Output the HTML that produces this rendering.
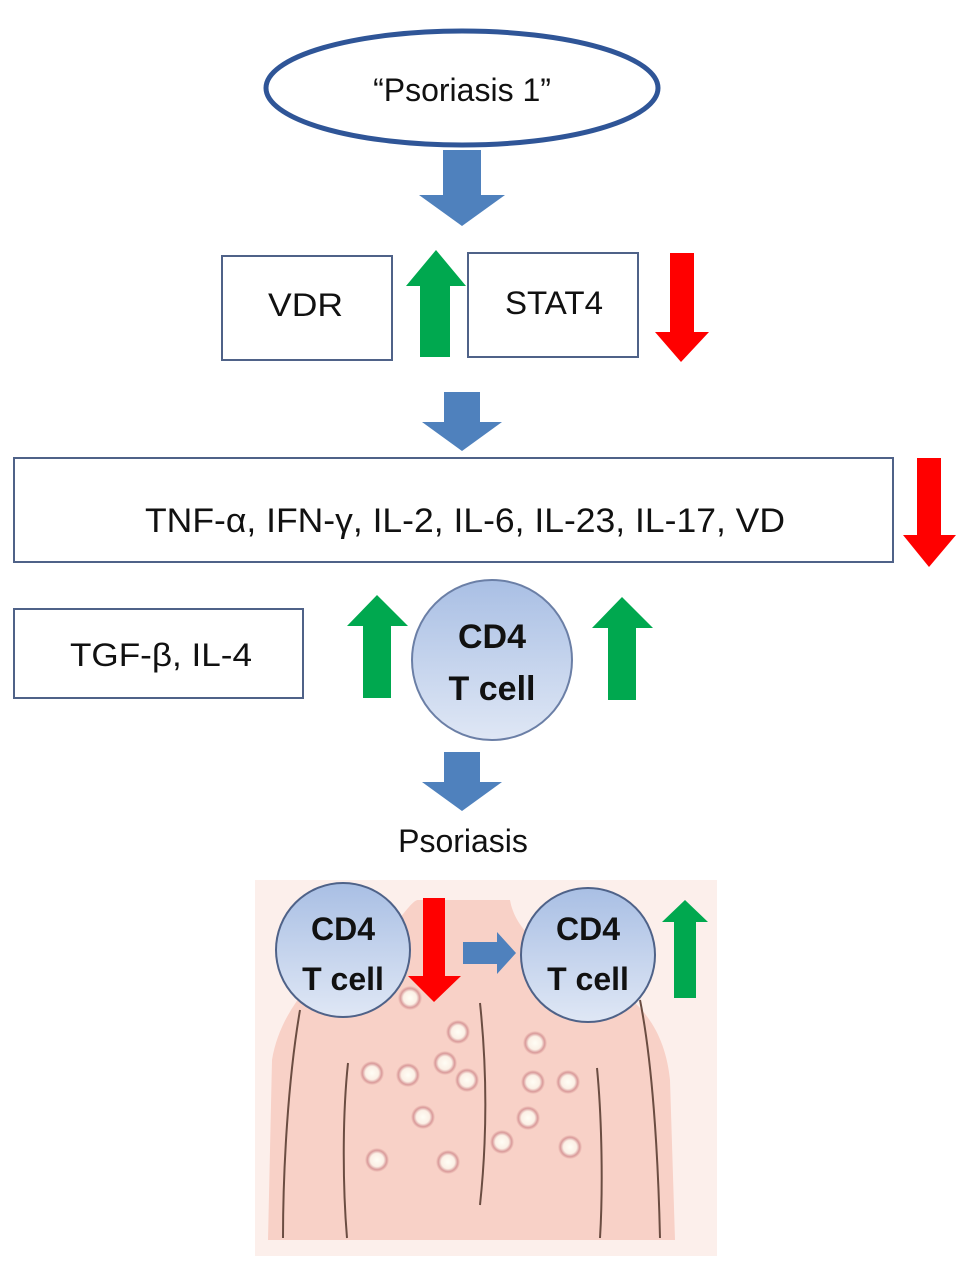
<!DOCTYPE html>
<html><head><meta charset="utf-8"><style>
html,body{margin:0;padding:0;background:#fff}
svg{display:block}
text{font-family:"Liberation Sans",sans-serif}
</style></head><body>
<svg width="969" height="1269" viewBox="0 0 969 1269" xmlns="http://www.w3.org/2000/svg">
<defs>
<linearGradient id="cg" x1="0" y1="0" x2="0" y2="1"><stop offset="0" stop-color="#a9bfe4"/><stop offset="1" stop-color="#dfe7f5"/></linearGradient>
<radialGradient id="bump"><stop offset="0" stop-color="#fffdf5"/><stop offset="0.55" stop-color="#fbf0e6"/><stop offset="0.8" stop-color="#d99a9a"/><stop offset="1" stop-color="#f7cfc4"/></radialGradient>
</defs>
<ellipse cx="462" cy="88" rx="196" ry="57" fill="#fff" stroke="#2f5597" stroke-width="5"/>
<text x="462" y="101" font-size="32" text-anchor="middle" fill="#111">“Psoriasis 1”</text>
<polygon points="443,150 481,150 481,195 505,195 462,226 419,195 443,195" fill="#4f81bd"/>
<rect x="222" y="256" width="170" height="104" fill="#fff" stroke="#4f6288" stroke-width="2"/>
<text x="268" y="316" font-size="32" textLength="75" lengthAdjust="spacingAndGlyphs" fill="#111">VDR</text>
<rect x="468" y="253" width="170" height="104" fill="#fff" stroke="#4f6288" stroke-width="2"/>
<text x="505" y="314" font-size="32" textLength="98" lengthAdjust="spacingAndGlyphs" fill="#111">STAT4</text>
<polygon points="436,250 466,286 450,286 450,357 420,357 420,286 406,286" fill="#00a84f"/>
<polygon points="670,253 694,253 694,332 709,332 681,362 655,332 670,332" fill="#ff0000"/>
<polygon points="444,392 480,392 480,422 502,422 462,451 422,422 444,422" fill="#4f81bd"/>
<rect x="14" y="458" width="879" height="104" fill="#fff" stroke="#4f6288" stroke-width="2"/>
<text x="145" y="532" font-size="34" textLength="640" lengthAdjust="spacingAndGlyphs" fill="#111">TNF-α, IFN-γ, IL-2, IL-6, IL-23, IL-17, VD</text>
<polygon points="917,458 941,458 941,535 956,535 929,567 903,535 917,535" fill="#ff0000"/>
<rect x="14" y="609" width="289" height="89" fill="#fff" stroke="#4f6288" stroke-width="2"/>
<text x="70" y="666" font-size="32" textLength="182" lengthAdjust="spacingAndGlyphs" fill="#111">TGF-β, IL-4</text>
<polygon points="377,595 408,626 391,626 391,698 363,698 363,626 347,626" fill="#00a84f"/>
<polygon points="622,597 653,628 636,628 636,700 608,700 608,628 592,628" fill="#00a84f"/>
<circle cx="492" cy="660" r="80" fill="url(#cg)" stroke="#6b7fa6" stroke-width="2"/>
<text x="492" y="648" font-size="34" font-weight="bold" text-anchor="middle" fill="#111">CD4</text>
<text x="492" y="700" font-size="34" font-weight="bold" text-anchor="middle" fill="#111">T cell</text>
<polygon points="444,752 480,752 480,782 502,782 462,811 422,782 444,782" fill="#4f81bd"/>
<text x="463" y="852" font-size="32" text-anchor="middle" fill="#111">Psoriasis</text>
<rect x="255" y="880" width="462" height="376" fill="#fcefeb"/>
<path d="M272,1060 C285,980 370,935 400,918 C410,905 415,900 418,900 L510,900 C515,930 545,955 590,975 C640,995 665,1030 670,1080 L675,1240 L268,1240 Z" fill="#f8d1c7"/>
<path d="M300,1010 C288,1080 283,1170 283,1238" fill="none" stroke="#6b4d42" stroke-width="2"/>
<path d="M640,1000 C652,1060 658,1150 660,1238" fill="none" stroke="#6b4d42" stroke-width="2"/>
<path d="M348,1063 C342,1120 343,1190 347,1238" fill="none" stroke="#6b4d42" stroke-width="2"/>
<path d="M597,1068 C602,1120 603,1190 600,1238" fill="none" stroke="#6b4d42" stroke-width="2"/>
<path d="M480,1003 C486,1060 488,1130 480,1205" fill="none" stroke="#6b4d42" stroke-width="2"/>
<g fill="url(#bump)">
<circle cx="410" cy="998" r="12"/><circle cx="458" cy="1032" r="12"/><circle cx="535" cy="1043" r="12"/>
<circle cx="372" cy="1073" r="12"/><circle cx="408" cy="1075" r="12"/><circle cx="445" cy="1063" r="12"/>
<circle cx="467" cy="1080" r="12"/><circle cx="533" cy="1082" r="12"/><circle cx="568" cy="1082" r="12"/>
<circle cx="423" cy="1117" r="12"/><circle cx="528" cy="1118" r="12"/><circle cx="502" cy="1142" r="12"/>
<circle cx="570" cy="1147" r="12"/><circle cx="377" cy="1160" r="12"/><circle cx="448" cy="1162" r="12"/>
</g>
<circle cx="343" cy="950" r="67" fill="url(#cg)" stroke="#4f6288" stroke-width="2"/>
<text x="343" y="940" font-size="32" font-weight="bold" text-anchor="middle" fill="#111">CD4</text>
<text x="343" y="990" font-size="32" font-weight="bold" text-anchor="middle" fill="#111">T cell</text>
<circle cx="588" cy="955" r="67" fill="url(#cg)" stroke="#4f6288" stroke-width="2"/>
<text x="588" y="940" font-size="32" font-weight="bold" text-anchor="middle" fill="#111">CD4</text>
<text x="588" y="990" font-size="32" font-weight="bold" text-anchor="middle" fill="#111">T cell</text>
<polygon points="423,898 445,898 445,976 461,976 434,1002 408,976 423,976" fill="#ff0000"/>
<polygon points="463,942 497,942 497,932 516,953 497,974 497,964 463,964" fill="#4f81bd"/>
<polygon points="685,900 708,922 696,922 696,998 674,998 674,922 662,922" fill="#00a84f"/>
</svg>
</body></html>
